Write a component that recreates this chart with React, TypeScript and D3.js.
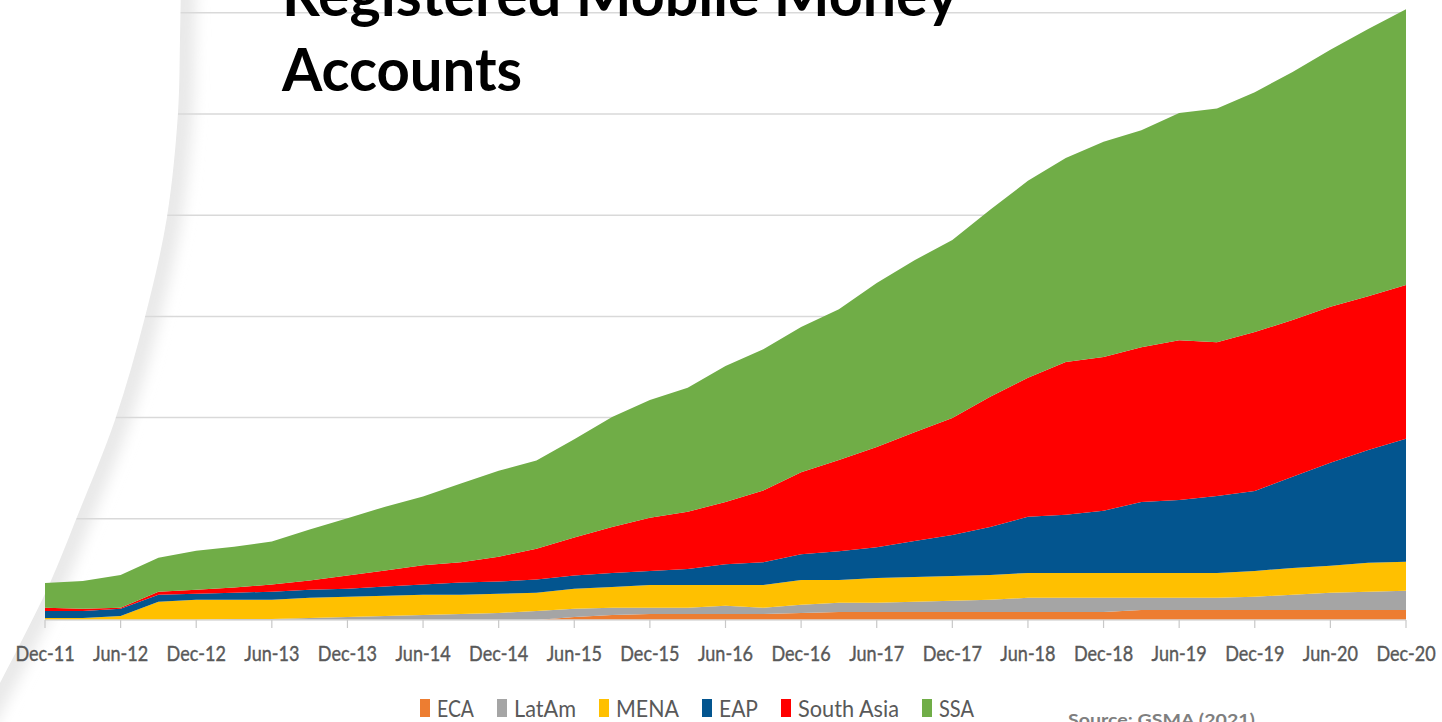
import React from "react";
import * as d3 from "d3";

const quarters = ["Dec-11","Mar-12","Jun-12","Sep-12","Dec-12","Mar-13","Jun-13","Sep-13","Dec-13","Mar-14","Jun-14","Sep-14","Dec-14","Mar-15","Jun-15","Sep-15","Dec-15","Mar-16","Jun-16","Sep-16","Dec-16","Mar-17","Jun-17","Sep-17","Dec-17","Mar-18","Jun-18","Sep-18","Dec-18","Mar-19","Jun-19","Sep-19","Dec-19","Mar-20","Jun-20","Sep-20","Dec-20"];
const tickLabels = ["Dec-11","Jun-12","Dec-12","Jun-13","Dec-13","Jun-14","Dec-14","Jun-15","Dec-15","Jun-16","Dec-16","Jun-17","Dec-17","Jun-18","Dec-18","Jun-19","Dec-19","Jun-20","Dec-20"];

// registered accounts, millions
const ECA = [0,0,0,0,0,0,0,0,0,0,0,0,0,0,6,10,12,12,12,12,14,16,16,16,16,16,16,16,16,20,20,20,20,20,20,20,20];
const LatAm = [0,0,0,0,0,2,2,4,6,8,10,12,14,18,16,14,12,12,16,12,16,18,18,20,22,24,28,28,28,24,24,24,26,30,34,36,38];
const MENA = [4,4,8,36,40,38,38,40,40,40,40,38,38,36,40,41,45,45,41,45,49,45,49,49,49,49,49,49,49,49,49,49,51,53,53,57,57];
const EAP = [14,14,14,14,12,14,16,16,16,18,20,24,24,26,26,28,28,32,41,45,51,57,61,71,81,95,111,115,123,140,144,152,158,180,204,223,243];
const SouthAsia = [6,4,2,6,8,10,14,18,26,32,38,40,49,61,75,91,105,113,123,142,162,180,198,215,231,257,275,302,304,306,316,304,314,310,308,304,304];
const SSA = [49,55,65,67,77,81,85,101,113,126,136,156,170,174,194,217,233,245,269,279,287,298,324,340,352,370,389,403,425,429,449,462,474,490,508,528,545];

const seriesNames = ["ECA", "LatAm", "MENA", "EAP", "South Asia", "SSA"];
const seriesValues = [ECA, LatAm, MENA, EAP, SouthAsia, SSA];
const colors = ["#ED7D31", "#A5A5A5", "#FFC000", "#03558F", "#FF0000", "#70AD47"];
const yTicks = [200, 400, 600, 800, 1000, 1200];
const legendTextWidths = [37, 62, 63, 39, 101, 35];

const W = 1442, H = 722;

export default function App() {
  const x = d3.scalePoint<string>().domain(quarters).range([45, 1406]);
  const y = d3.scaleLinear().domain([0, 1200]).range([620, 12.8]);

  const rows = quarters.map((q, i) => {
    const r: any = { q };
    seriesNames.forEach((n, k) => (r[n] = seriesValues[k][i]));
    return r;
  });
  const stacked = d3.stack<any>().keys(seriesNames)(rows);
  const area = d3.area<any>()
    .x((d) => x(d.data.q) as number)
    .y0((d) => y(d[0]))
    .y1((d) => y(d[1]));

  // decorative page-curl edge on the left
  const curvePts: [number, number][] = [[181, -20], [180, 40], [178, 113], [167, 217], [145, 317], [115, 420], [77, 517], [50, 583], [17, 650], [-22, 725]];
  const curveLine = d3.line().curve(d3.curveCatmullRom.alpha(0.5))(curvePts) as string;
  const whiteRegion = curveLine + "L-60,740L-60,-30Z";

  // legend layout
  const legendItems: { x: number; tx: number; w: number }[] = [];
  let lx = 420;
  legendTextWidths.forEach((w) => {
    legendItems.push({ x: lx, tx: lx + 17, w });
    lx += 17 + w + 23;
  });

  const font = "Lato, 'Open Sans', sans-serif";

  return (
    <svg width={W} height={H} style={{ position: "absolute", left: 0, top: 0, display: "block", background: "#fff" }}>
      <defs>
        <filter id="blur" x="-50%" y="-10%" width="200%" height="120%">
          <feGaussianBlur stdDeviation="7" />
        </filter>
      </defs>
      <rect x={0} y={0} width={W} height={H} fill="#fff" />
      <path d={curveLine} fill="none" stroke="#e9e9e9" strokeWidth={30} filter="url(#blur)" />
      {yTicks.map((t) => (
        <line key={t} x1={0} x2={1406} y1={y(t)} y2={y(t)} stroke="#d9d9d9" strokeWidth={1.5} />
      ))}
      <path d={whiteRegion} fill="#fff" />
      {stacked.map((s, k) => (
        <path key={s.key} d={area(s) as string} fill={colors[k]} />
      ))}
      <line x1={45} x2={1406} y1={620} y2={620} stroke="#d9d9d9" strokeWidth={1.5} />
      {tickLabels.map((t) => (
        <g key={t}>
          <line x1={x(t)} x2={x(t)} y1={620} y2={628} stroke="#c8c8c8" strokeWidth={1.2} />
          <text
            transform={`translate(${x(t)},661) scale(0.86,1)`}
            textAnchor="middle"
            fontFamily={font}
            fontSize={21}
            fill="#595959"
            stroke="#595959"
            strokeWidth={0.4}
          >
            {t}
          </text>
        </g>
      ))}
      {legendItems.map((it, k) => (
        <g key={seriesNames[k]}>
          <rect x={it.x} y={699} width={10} height={18} fill={colors[k]} />
          <text
            x={it.tx}
            y={717}
            fontFamily={font}
            fontSize={23}
            fill="#595959"
            textLength={it.w}
            lengthAdjust="spacingAndGlyphs"
          >
            {seriesNames[k]}
          </text>
        </g>
      ))}
      <text x={282} y={16} fontFamily={font} fontWeight="bold" fontSize={59} fill="#000" textLength={676} lengthAdjust="spacingAndGlyphs">
        Registered Mobile Money
      </text>
      <text x={282} y={91} fontFamily={font} fontWeight="bold" fontSize={59} fill="#000" textLength={240} lengthAdjust="spacingAndGlyphs">
        Accounts
      </text>
      <text x={1068} y={726} fontFamily={font} fontWeight="bold" fontSize={17} fill="#7f7f7f" textLength={187} lengthAdjust="spacingAndGlyphs">
        Source: GSMA (2021)
      </text>
    </svg>
  );
}
